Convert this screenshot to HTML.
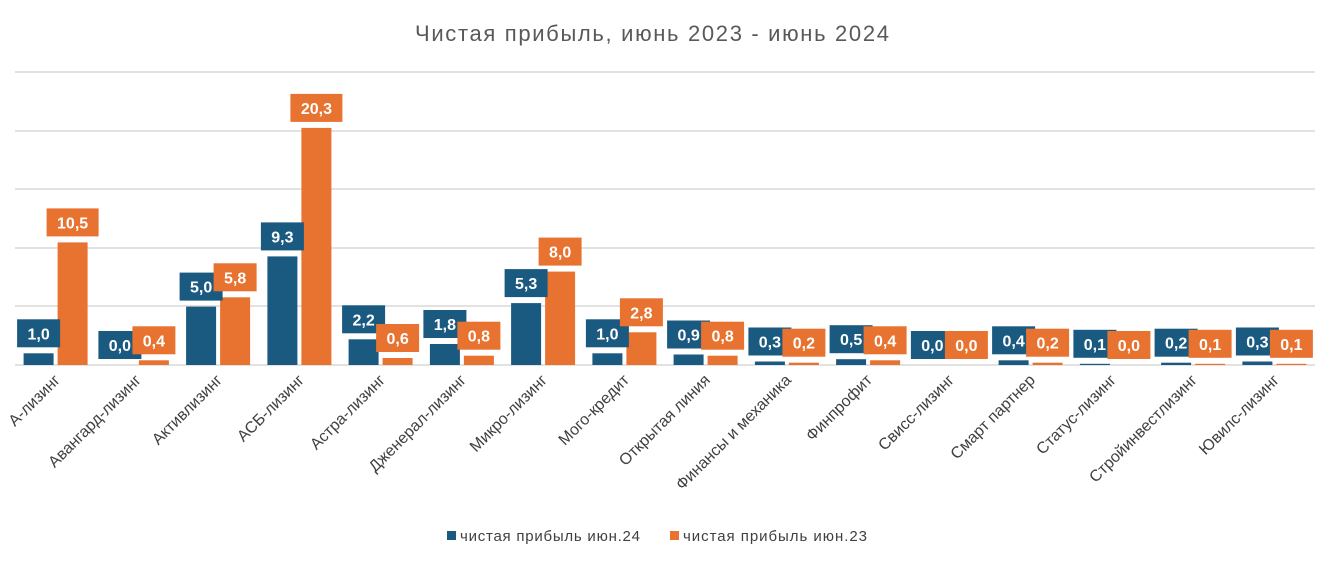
<!DOCTYPE html>
<html><head><meta charset="utf-8"><style>body{margin:0;background:#fff}svg{display:block}text{font-family:"Liberation Sans","DejaVu Sans",sans-serif}</style></head>
<body>
<svg width="1329" height="562" xmlns="http://www.w3.org/2000/svg">
<rect width="1329" height="562" fill="#fff"/>
<text x="652" y="41" text-anchor="middle" font-size="22" fill="#595959" textLength="474">Чистая прибыль, июнь 2023 - июнь 2024</text>
<g stroke="#d9d9d9" stroke-width="1.5">
<line x1="15" x2="1315" y1="72" y2="72"/><line x1="15" x2="1315" y1="131" y2="131"/><line x1="15" x2="1315" y1="189" y2="189"/><line x1="15" x2="1315" y1="248" y2="248"/><line x1="15" x2="1315" y1="306" y2="306"/><line x1="15" x2="1315" y1="365" y2="365"/>
</g>
<g fill="#1b5a80">
<rect x="23.6" y="353.3" width="30" height="11.7"/>
<rect x="186.1" y="306.6" width="30" height="58.4"/>
<rect x="267.4" y="256.4" width="30" height="108.6"/>
<rect x="348.6" y="339.3" width="30" height="25.7"/>
<rect x="429.9" y="344" width="30" height="21"/>
<rect x="511.1" y="303.1" width="30" height="61.9"/>
<rect x="592.4" y="353.3" width="30" height="11.7"/>
<rect x="673.6" y="354.5" width="30" height="10.5"/>
<rect x="754.9" y="361.5" width="30" height="3.5"/>
<rect x="836.1" y="359.2" width="30" height="5.8"/>
<rect x="998.6" y="360.3" width="30" height="4.7"/>
<rect x="1079.9" y="363.8" width="30" height="1.2"/>
<rect x="1161.1" y="362.7" width="30" height="2.3"/>
<rect x="1242.4" y="361.5" width="30" height="3.5"/>
</g>
<g fill="#e8722f">
<rect x="57.6" y="242.4" width="30" height="122.6"/>
<rect x="138.9" y="360.3" width="30" height="4.7"/>
<rect x="220.1" y="297.3" width="30" height="67.7"/>
<rect x="301.4" y="127.9" width="30" height="237.1"/>
<rect x="382.6" y="358" width="30" height="7"/>
<rect x="463.9" y="355.7" width="30" height="9.3"/>
<rect x="545.1" y="271.6" width="30" height="93.4"/>
<rect x="626.4" y="332.3" width="30" height="32.7"/>
<rect x="707.6" y="355.7" width="30" height="9.3"/>
<rect x="788.9" y="362.7" width="30" height="2.3"/>
<rect x="870.1" y="360.3" width="30" height="4.7"/>
<rect x="1032.6" y="362.7" width="30" height="2.3"/>
<rect x="1195.1" y="363.8" width="30" height="1.2"/>
<rect x="1276.4" y="363.8" width="30" height="1.2"/>
</g>
<g font-size="16" font-weight="bold" fill="#fff" text-anchor="middle">
<rect x="17.1" y="319.3" width="43" height="28" fill="#1b5a80"/><text x="38.6" y="339.3">1,0</text>
<rect x="98.4" y="331" width="43" height="28" fill="#1b5a80"/><text x="119.9" y="351">0,0</text>
<rect x="179.6" y="272.6" width="43" height="28" fill="#1b5a80"/><text x="201.1" y="292.6">5,0</text>
<rect x="260.9" y="222.4" width="43" height="28" fill="#1b5a80"/><text x="282.4" y="242.4">9,3</text>
<rect x="342.1" y="305.3" width="43" height="28" fill="#1b5a80"/><text x="363.6" y="325.3">2,2</text>
<rect x="423.4" y="310" width="43" height="28" fill="#1b5a80"/><text x="444.9" y="330">1,8</text>
<rect x="504.6" y="269.1" width="43" height="28" fill="#1b5a80"/><text x="526.1" y="289.1">5,3</text>
<rect x="585.9" y="319.3" width="43" height="28" fill="#1b5a80"/><text x="607.4" y="339.3">1,0</text>
<rect x="667.1" y="320.5" width="43" height="28" fill="#1b5a80"/><text x="688.6" y="340.5">0,9</text>
<rect x="748.4" y="327.5" width="43" height="28" fill="#1b5a80"/><text x="769.9" y="347.5">0,3</text>
<rect x="829.6" y="325.2" width="43" height="28" fill="#1b5a80"/><text x="851.1" y="345.2">0,5</text>
<rect x="910.9" y="331" width="43" height="28" fill="#1b5a80"/><text x="932.4" y="351">0,0</text>
<rect x="992.1" y="326.3" width="43" height="28" fill="#1b5a80"/><text x="1013.6" y="346.3">0,4</text>
<rect x="1073.4" y="329.8" width="43" height="28" fill="#1b5a80"/><text x="1094.9" y="349.8">0,1</text>
<rect x="1154.6" y="328.7" width="43" height="28" fill="#1b5a80"/><text x="1176.1" y="348.7">0,2</text>
<rect x="1235.9" y="327.5" width="43" height="28" fill="#1b5a80"/><text x="1257.4" y="347.5">0,3</text>

<rect x="46.6" y="208.4" width="52" height="28" fill="#e8722f"/><text x="72.6" y="228.4">10,5</text>
<rect x="132.4" y="326.3" width="43" height="28" fill="#e8722f"/><text x="153.9" y="346.3">0,4</text>
<rect x="213.6" y="263.3" width="43" height="28" fill="#e8722f"/><text x="235.1" y="283.3">5,8</text>
<rect x="290.4" y="93.9" width="52" height="28" fill="#e8722f"/><text x="316.4" y="113.9">20,3</text>
<rect x="376.1" y="324" width="43" height="28" fill="#e8722f"/><text x="397.6" y="344">0,6</text>
<rect x="457.4" y="321.7" width="43" height="28" fill="#e8722f"/><text x="478.9" y="341.7">0,8</text>
<rect x="538.6" y="237.6" width="43" height="28" fill="#e8722f"/><text x="560.1" y="257.6">8,0</text>
<rect x="619.9" y="298.3" width="43" height="28" fill="#e8722f"/><text x="641.4" y="318.3">2,8</text>
<rect x="701.1" y="321.7" width="43" height="28" fill="#e8722f"/><text x="722.6" y="341.7">0,8</text>
<rect x="782.4" y="328.7" width="43" height="28" fill="#e8722f"/><text x="803.9" y="348.7">0,2</text>
<rect x="863.6" y="326.3" width="43" height="28" fill="#e8722f"/><text x="885.1" y="346.3">0,4</text>
<rect x="944.9" y="331" width="43" height="28" fill="#e8722f"/><text x="966.4" y="351">0,0</text>
<rect x="1026.1" y="328.7" width="43" height="28" fill="#e8722f"/><text x="1047.6" y="348.7">0,2</text>
<rect x="1107.4" y="331" width="43" height="28" fill="#e8722f"/><text x="1128.9" y="351">0,0</text>
<rect x="1188.6" y="329.8" width="43" height="28" fill="#e8722f"/><text x="1210.1" y="349.8">0,1</text>
<rect x="1269.9" y="329.8" width="43" height="28" fill="#e8722f"/><text x="1291.4" y="349.8">0,1</text>
</g>
<g font-size="16" fill="#404040" text-anchor="end">
<text transform="translate(61,381) rotate(-45)">А-лизинг</text>
<text transform="translate(142,381) rotate(-45)">Авангард-лизинг</text>
<text transform="translate(223,381) rotate(-45)">Активлизинг</text>
<text transform="translate(305,381) rotate(-45)">АСБ-лизинг</text>
<text transform="translate(386,381) rotate(-45)">Астра-лизинг</text>
<text transform="translate(467,381) rotate(-45)">Дженерал-лизинг</text>
<text transform="translate(548,381) rotate(-45)">Микро-лизинг</text>
<text transform="translate(630,381) rotate(-45)">Мого-кредит</text>
<text transform="translate(711,381) rotate(-45)">Открытая линия</text>
<text transform="translate(792,381) rotate(-45)">Финансы и механика</text>
<text transform="translate(873,381) rotate(-45)">Финпрофит</text>
<text transform="translate(955,381) rotate(-45)">Свисс-лизинг</text>
<text transform="translate(1036,381) rotate(-45)">Смарт партнер</text>
<text transform="translate(1117,381) rotate(-45)">Статус-лизинг</text>
<text transform="translate(1198,381) rotate(-45)">Стройинвестлизинг</text>
<text transform="translate(1280,381) rotate(-45)">Ювилс-лизинг</text>
</g>
<rect x="447" y="531" width="9" height="9" fill="#1b5a80"/>
<text x="460" y="541" font-size="15" fill="#404040" textLength="180">чистая прибыль июн.24</text>
<rect x="670" y="531" width="9" height="9" fill="#e8722f"/>
<text x="683" y="541" font-size="15" fill="#404040" textLength="184">чистая прибыль июн.23</text>
</svg>
</body></html>
